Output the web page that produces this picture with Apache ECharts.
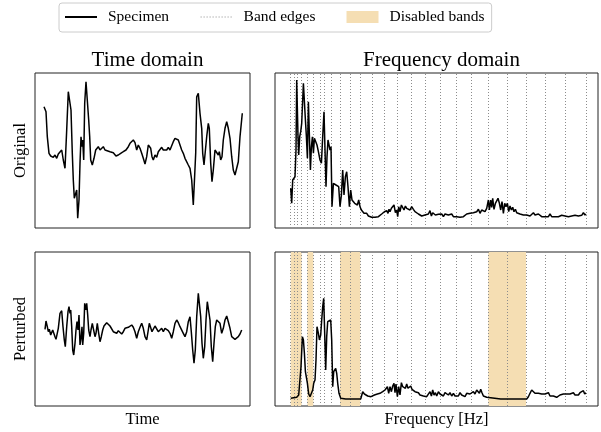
<!DOCTYPE html>
<html><head><meta charset="utf-8">
<script src="https://cdn.jsdelivr.net/npm/echarts@6/dist/echarts.min.js"></script>
<style>html,body{margin:0;padding:0;background:#fff}#c{width:601px;height:432px}</style>
</head><body><div id="c"></div>
<script>
const FONT = '"Liberation Serif", "DejaVu Serif", serif';

// [time, amplitude]
const timeOriginal = [[0,44.3],[2,39.3],[3.3,14.3],[5,-2.3],[6.7,-5],[8,-3],[9.3,-6.3],[11,-4],[12.7,-7.3],[14.3,-3],[16,-5],[17.7,1],[19.3,-9],[21,-17.3],[22.7,21],[24.3,59.3],[26,57.7],[27,41],[28.3,-2.3],[29.3,-29],[30.3,-47.3],[31.7,-47.3],[32.7,-39],[33.7,-67.3],[35,-49],[36,-12.3],[37,14.3],[38,4.3],[38.7,11],[39.7,-9],[40.7,47.7],[42,69.3],[43.7,71],[44.7,31],[45.7,14.3],[46.7,-9],[48.3,-14],[50,-7.3],[51.7,1],[54.3,4.3],[56,1],[57.7,2.7],[59.3,4.3],[61,1],[62.7,-0.7],[66,-0.7],[69.3,-1.7],[72,-5],[74.3,-4],[76.7,-2.3],[79.3,-0.7],[82,1],[84.3,4.3],[86,7.7],[87.7,9.3],[89.3,11],[91,8.3],[92.7,1],[94.3,6],[96,2.7],[97.7,-2.3],[99.3,-7.3],[101,-13],[102.7,-5.7],[104.3,6],[105.3,7.7],[106.7,2.7],[108,-5.7],[109.3,-9],[111,-4],[112.7,-6.3],[114.3,-0.7],[116,1],[117.7,3.7],[119.3,1],[121,2.7],[122.7,1],[124.3,3.7],[126,1],[127.7,2.7],[129.3,9.3],[131,12.7],[132.7,12.7],[134.3,11],[136,6],[137.7,1],[139.3,-2.3],[141,-7.3],[142.7,-9],[144.3,-14],[146,-17.3],[147.7,-29],[149.3,-54],[150.7,-52.3],[151.7,-2.3],[152.7,54.3],[154.3,57.7],[156,37.7],[157.7,22.7],[158.7,-2.3],[160,-14],[161.3,-15.7],[162.7,14.3],[164.3,27.7],[165.3,22.7],[166.7,-12.3],[168,-30.7],[169.3,-19],[171,1],[172.7,2.7],[174.3,-4],[175.3,-0.7],[176.7,-9],[178,-5.7],[179.3,11],[181,22.7],[182.7,29.3],[184.3,22.7],[186,12.7],[187.7,-5.7],[189.3,-19],[191,-24],[192.7,-23],[194.3,-10.7],[196,14.3],[198.3,37.7]];

const timePerturbed = [[1,0.7],[2,9],[3.3,3.3],[4.3,-1.7],[5.3,0.7],[6.7,-5],[7.7,-3.3],[8.7,0],[10,-1.7],[11,-6.7],[12,-9.3],[13.3,-10.7],[14.3,1.7],[16,16.7],[17.7,19.3],[19,3.3],[20.3,-10],[21.3,-16.7],[22.7,3.3],[24,18.3],[25,23.3],[26,16.7],[26.7,20],[27.7,3.3],[28.7,-20],[29.7,-25],[31,-13.3],[32,0],[33,8.3],[34,0],[35,15],[36,-15],[37,-8.3],[38,3.3],[38.7,-15],[39.7,-3.3],[40.7,26.7],[41.7,20],[42.7,26.7],[43.7,15],[44.7,0],[46,-6.7],[47,0],[48.3,6.7],[49.3,1.7],[51,-6.7],[52,-3.3],[53.3,6.7],[54.7,-3.3],[56,-11.7],[57.3,-6.7],[58.7,0],[60,4],[61.3,3.3],[62.7,7.3],[64.3,6],[66,4],[67.7,2.7],[69.3,-1.7],[71,0],[72.7,-3.3],[74.3,-0.7],[76,-1.7],[77.7,-4],[79.3,-1.7],[81,1.7],[82.7,0.7],[84.3,2.7],[86,2.7],[87.7,5],[89.3,2.7],[91,-1.7],[92.7,-8.3],[94.3,-1.7],[96,2.7],[97.7,6.7],[99.3,1.7],[101,-6.7],[102.7,-10],[104.3,0],[105.3,6.7],[106.7,8.3],[108,-1.7],[109.3,-3.3],[111,4],[112.7,2.7],[114.3,-1.7],[116,0],[117.7,1.7],[119.3,-1.7],[121,1.7],[122.7,0],[124.3,-0.7],[126,-3.3],[127.7,-8.3],[129.3,-1.7],[131,6.7],[132.7,10],[134.3,7.3],[136,3.3],[137.7,1.7],[139.3,-3.3],[141,-6.7],[142.7,-1.7],[144.3,8.3],[146,13.3],[147.3,-1.7],[148.7,-20],[150,-33.3],[151.3,-20],[152.7,13.3],[154.3,36.7],[155.3,35],[156.7,13.3],[158,-13.3],[159.3,-28.3],[160.7,-16.7],[162,10],[163.3,28.3],[164.7,28.3],[166,10],[167.3,-16.7],[168.7,-31.7],[170,-13.3],[171.3,3.3],[172.7,10],[174.3,10],[176,6.7],[177.7,-3.3],[179.3,1.7],[181,10],[182.7,14],[184.3,8.3],[186,1.7],[187.7,-6.7],[189.3,-8.3],[191,-9.3],[192.7,-7.3],[194.3,-6.7],[196,-4],[197.7,0]];

// [frequency, magnitude]
const freqOriginal = [[0,32.7],[1,17.7],[2,41],[3.3,39.3],[4.3,44.3],[5.3,71],[6,141],[7.3,84.3],[8,66],[9,84.3],[10,89.3],[11,97.7],[12.7,137.7],[13.7,137.7],[14.7,101],[15.7,84.3],[16.7,62.7],[17.7,119.3],[18.7,117.7],[19.7,51],[20.7,74.3],[21.7,84.3],[22.7,67.7],[23.7,82.7],[25,81],[26.3,76],[27.7,69.3],[29.3,61],[30.7,57.7],[32,84.3],[33.3,109.3],[34.3,71],[35.3,34.3],[36.3,64.3],[37.3,81],[38.3,76],[39.3,71],[40.3,74.3],[41.3,14.3],[42.7,37.7],[44,36],[45.3,36],[46.7,36],[48,34.3],[49.3,14.3],[50.7,26],[52,51],[53.3,26],[54.7,44.3],[56,49.3],[57.3,34.3],[58.7,14.3],[60,31],[61.3,21],[62.7,22.7],[64,17.7],[65.3,19.3],[66.7,16],[68,21],[69.3,14.3],[70.7,11],[72,9.3],[73.3,7.7],[74.7,7],[76,7.7],[77.7,5],[79.3,4.3],[81,3.7],[82.7,4.3],[84.3,3.7],[86,5],[87.7,4.3],[89.3,6],[91,7],[92.7,5],[93.7,9.3],[94.7,7.7],[96,10.3],[97.3,7.7],[98.3,11.7],[99.3,9.3],[100.7,12.7],[102,11],[103.3,16],[104.7,8.3],[106,11],[107,4.3],[108,14.3],[109.3,9.3],[110.7,16],[112,14.3],[113.3,11],[114.7,15],[116,12.7],[117.7,13.7],[119.3,11],[121,14.3],[122.7,11.7],[124.3,9.3],[126,7.7],[127.7,7],[129.3,6],[131,5],[132.7,4.3],[134.3,6],[136,5],[137.7,7],[139.3,10.3],[140.7,5],[142,8.3],[143.3,7],[144.7,6],[146,7.7],[147.7,6.7],[149.3,5],[151,7],[152.7,4.3],[154.3,7],[156,5],[157.7,6],[159.3,4.3],[161,7],[162.7,4.3],[164.3,5.7],[166,4.3],[167.7,5],[169.3,3.7],[171,5.7],[172.7,4.3],[174.3,6],[176,7],[177.7,5],[179.3,7.7],[181,6],[182.7,8.3],[184.3,7],[186,9.3],[187.7,11.7],[189.3,7.7],[191,11],[192.7,11.7],[194.3,9.3],[196,12.7],[197.7,21],[198.7,11],[200,21],[201,13.7],[202,22.7],[203.3,11.7],[204.7,17.7],[206,19.3],[207.3,22.7],[208.7,17.7],[210,11],[211.3,19.3],[212.7,7.7],[214,17.7],[215.3,14.3],[216.7,17.7],[218,9.3],[219.3,15],[220.7,11],[222,13.7],[223.3,9.3],[224.7,11.7],[226,8.3],[227.7,9.3],[229.3,7],[231,7.7],[232.7,6],[234.3,7],[236,6],[237.7,7.7],[239.3,5],[241,7],[242.7,8.3],[244.3,6],[246,5],[247.7,7],[249.3,5],[251,4.3],[252.7,5.7],[254.3,4.3],[256,6],[257.7,4.3],[259.3,7],[261,4.3],[262.7,3.7],[264.3,4.3],[266,3.7],[267.7,4.3],[269.3,5],[271,5.7],[272.7,5.7],[274.3,5],[276,6],[277.7,4.3],[279.3,6],[281,5],[282.7,7],[284.3,5.7],[286,6],[287.7,5],[289.3,7],[291,5.7],[292.7,8.3],[294.3,6],[295.3,7]];

const freqPerturbed = [[0,0.7],[6,1.7],[8,4],[9.3,2.3],[10.3,32.3],[11.7,62.3],[12.7,59],[13.7,45.7],[14.7,27.3],[15.7,25.7],[16.7,15.7],[18,5],[19.3,2.3],[20.7,3],[22,9],[23,15.7],[24.3,19],[25.3,39],[26.3,72.3],[27.7,65.7],[28.7,59],[30,64],[31,79],[32,92.3],[33,100.7],[34,101.7],[35,29],[36,62.3],[37,77.3],[38,75.7],[39,77.3],[40,79],[41,59],[42,12.3],[43,27.3],[44,29],[45,30.7],[46,25.7],[47,15.7],[48.3,5.7],[50,0.7],[55,0],[60,0],[65,0],[70,0],[72,7.3],[73.7,5],[75.3,4],[77,3],[78.7,1.7],[80.3,2.3],[82,2.3],[83.7,4],[85.3,2.3],[86.7,5],[88,3],[89.3,5.7],[90.7,4],[92,7.3],[93.3,5.7],[94.3,9],[95.3,7.3],[96.7,12.3],[98,5.7],[99.3,12.3],[100.7,7.3],[102,13],[103.3,15.7],[104.3,6.3],[105.3,15],[106.7,2.3],[108,12.3],[109.3,4],[110.7,16.3],[112,12.3],[113.3,14],[114.7,10.7],[116,15],[117.3,10.7],[118.7,12.3],[120,13],[121.3,9.7],[122.7,9],[124.3,7.3],[126,5.7],[127.7,6.3],[129.3,4],[131,5],[132.7,3],[134.3,4],[136,2.3],[137.7,3.7],[139.3,7.3],[140.7,3],[142,9],[143.3,4],[144.7,6.3],[146,3],[147.7,7.3],[149.3,5],[151,6.3],[152.7,3],[154.3,6.3],[156,5],[157.7,4],[159.3,6.3],[161,3],[162.7,5.7],[164.3,3],[166,5],[167.7,3],[169.3,6.3],[171,4],[172.7,5],[174.3,2.3],[176,5.7],[177.7,7.3],[179.3,5],[181,4],[182.7,7.3],[184.3,5],[186,9],[187.7,10.7],[188.7,5.7],[190,9.7],[191.3,6.3],[192.7,3],[194.3,4],[196,1.7],[197.7,0],[210,0],[220,0],[230,0],[236,0],[237.7,2.3],[239.3,5.7],[241,9],[242.7,7.3],[244.3,5.7],[246,5],[247.7,5.7],[249.3,4],[251,5],[252.7,3],[254.3,5],[256,4],[257.7,6.3],[259.3,3],[261,5],[262.7,3],[264.3,2.3],[266,1.7],[267.7,3],[269.3,4],[271,5],[272.7,5],[274.3,4],[276,5],[277.7,3],[279.3,5],[281,4],[282.7,6.3],[284.3,4],[286,5.7],[287.7,4],[289.3,6.3],[291,5],[292.7,8.3],[294,5],[295.3,6.3]];

const bandEdges = [0,3.3,6.6,11,16.6,22.6,29.3,33.6,41,49.3,59.3,69.6,81.3,93.6,107,121,135,149.8,165.3,181,197.6,216.6,235.3,254.3,274.3,295.3];
const disabledBands = [[0,11],[16.6,22.6],[49.3,69.6],[197.6,235.3]];

const columnTitles = ['Time domain', 'Frequency domain'];
const rowLabels = ['Original', 'Perturbed'];
const xLabels = ['Time', 'Frequency [Hz]'];

const WHEAT = '#f5deb3';
const EDGE = '#8c8c8c';
const grids = [
  {left: 35, top: 73, width: 215, height: 155},
  {left: 275, top: 73, width: 323, height: 155},
  {left: 35, top: 252, width: 215, height: 154},
  {left: 275, top: 252, width: 323, height: 154}
].map(g => Object.assign(g, {show: true, borderColor: '#222', borderWidth: 1, backgroundColor: 'transparent', containLabel: false, outerBoundsMode: 'none'}));

const hidden = {axisLabel: {show: false}, axisTick: {show: false}, axisLine: {show: false}, splitLine: {show: false}};
const nameStyle = {fontFamily: FONT, fontSize: 16.5, color: '#000'};
const xRange = [[-9, 206], [-15.7, 307.3], [-9, 206], [-15.7, 307.3]];
const yRange = [[-77, 78], [-7, 148], [-76, 78], [-7, 147]];

const xAxes = xRange.map((r, i) => Object.assign({type: 'value', gridIndex: i, min: r[0], max: r[1]}, hidden,
  i >= 2 ? {name: xLabels[i - 2], nameLocation: 'middle', nameGap: 5, nameTextStyle: Object.assign({verticalAlign: 'top'}, nameStyle)} : {}));
const yAxes = yRange.map((r, i) => Object.assign({type: 'value', gridIndex: i, min: r[0], max: r[1]}, hidden,
  i % 2 === 0 ? {name: rowLabels[i / 2], nameLocation: 'middle', nameGap: 6, nameRotate: 90, nameTextStyle: nameStyle} : {}));

const specimen = (data, i) => ({name: 'Specimen', type: 'line', xAxisIndex: i, yAxisIndex: i, data: data,
  symbol: 'none', z: 5, lineStyle: {color: '#000', width: 1.5}, itemStyle: {color: '#000'}, silent: true});
const edges = i => ({name: 'Band edges', type: 'line', xAxisIndex: i, yAxisIndex: i, data: [], symbol: 'none', z: 3,
  lineStyle: {color: EDGE, width: 1, type: [1, 2]}, itemStyle: {color: EDGE},
  markLine: {silent: true, symbol: ['none', 'none'], label: {show: false}, animation: false,
    lineStyle: {color: EDGE, width: 1, type: [1, 2]}, emphasis: {disabled: true},
    data: bandEdges.map(v => ({xAxis: v}))}});

const option = {
  animation: false,
  backgroundColor: '#fff',
  title: columnTitles.map((t, i) => ({text: t, left: i === 0 ? 142.5 : 436.5, top: 45, textAlign: 'center',
    textStyle: {fontFamily: FONT, fontSize: 21, fontWeight: 'normal', color: '#000'}})),
  legend: {left: 59, top: 3, padding: [6, 7, 7, 5], itemWidth: 32, itemHeight: 12, itemGap: 31,
    borderColor: '#cccccc', borderWidth: 1, borderRadius: 3, backgroundColor: '#fff', selectedMode: false,
    textStyle: {fontFamily: FONT, fontSize: 15.5, color: '#000', padding: [0, 0, 0, 6]},
    data: [
      {name: 'Specimen', lineStyle: {width: 2, color: '#000'}, itemStyle: {opacity: 0, borderWidth: 0}},
      {name: 'Band edges', lineStyle: {width: 1, color: EDGE, type: [1, 2]}, itemStyle: {opacity: 0, borderWidth: 0}},
      {name: 'Disabled bands', icon: 'rect', itemStyle: {color: WHEAT}}
    ]},
  grid: grids,
  xAxis: xAxes,
  yAxis: yAxes,
  series: [
    specimen(timeOriginal, 0),
    specimen(freqOriginal, 1),
    specimen(timePerturbed, 2),
    specimen(freqPerturbed, 3),
    edges(1),
    edges(3),
    {name: 'Disabled bands', type: 'line', xAxisIndex: 3, yAxisIndex: 3, data: [], symbol: 'none', z: 1,
      itemStyle: {color: WHEAT}, lineStyle: {color: WHEAT},
      markArea: {silent: true, itemStyle: {color: WHEAT, opacity: 1}, label: {show: false},
        data: disabledBands.map(b => [{xAxis: b[0]}, {xAxis: b[1]}])}}
  ]
};
const chart = echarts.init(document.getElementById('c'), null, {renderer: 'canvas'});
chart.setOption(option);
</script></body></html>
